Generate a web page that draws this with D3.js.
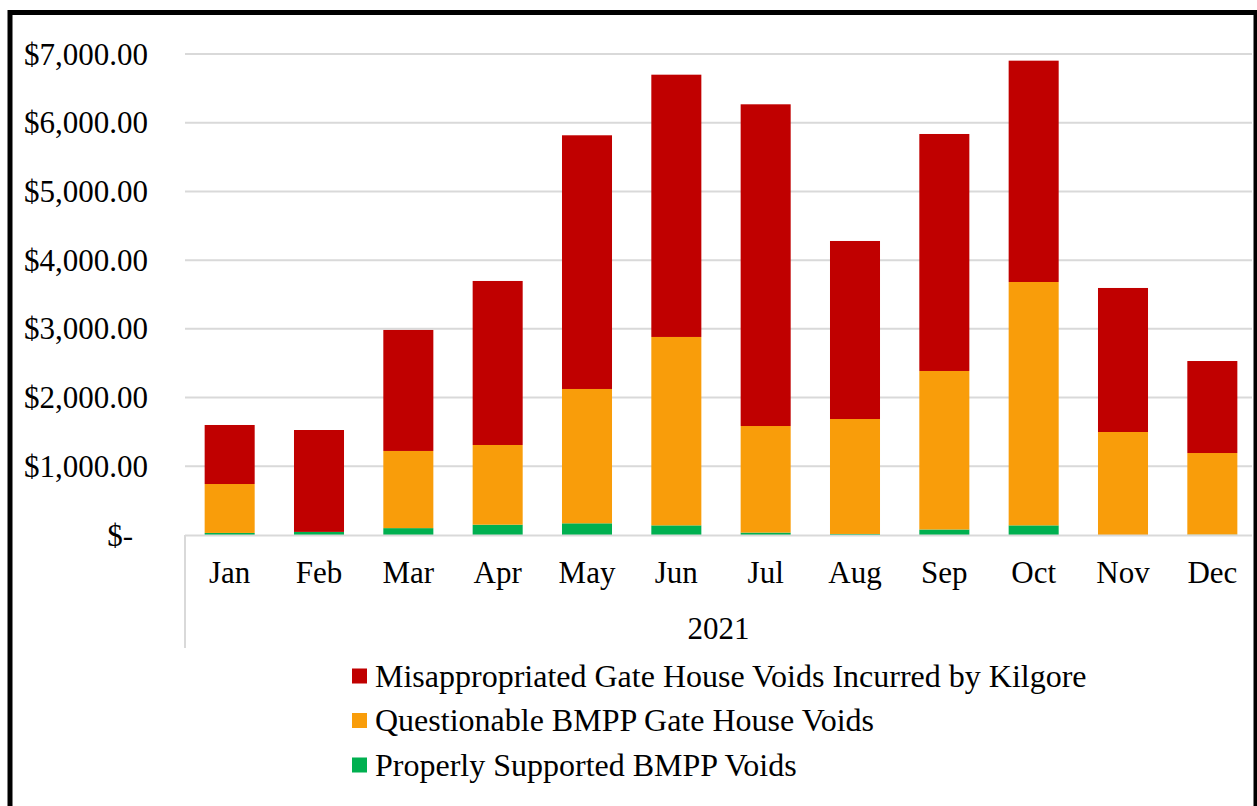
<!DOCTYPE html>
<html lang="en">
<head>
    <meta charset="UTF-8">
    <title>BMPP Gate House Voids 2021</title>
    <script src="https://d3js.org/d3.v7.min.js"></script>
</head>
<style>
    body {
        margin: 0;
        background: white;
    }
    svg text {
        font-family: "Liberation Serif", "Times New Roman", serif;
        fill: black;
    }
</style>
<body>
    <svg id="chart"></svg>

    <script>
    //Data
        const months = ['Jan', 'Feb', 'Mar', 'Apr', 'May', 'Jun', 'Jul', 'Aug', 'Sep', 'Oct', 'Nov', 'Dec'];
        const supported = [30, 45, 100, 150, 170, 140, 35, 15, 80, 140, 0, 5];
        const questionable = [712, 0, 1123, 1160, 1955, 2742, 1551, 1673, 2307, 3542, 1499, 1188];
        const misappropriated = [859, 1483, 1761, 2387, 3692, 3817, 4682, 2591, 3449, 3221, 2096, 1339];
        const yTicks = [0, 1000, 2000, 3000, 4000, 5000, 6000, 7000];
        const yearLabel = '2021';

        const seriesNames = [
            'Properly Supported BMPP Voids',
            'Questionable BMPP Gate House Voids',
            'Misappropriated Gate House Voids Incurred by Kilgore'
        ];
        const seriesColors = ['#00b050', '#f99d0a', '#c00000'];

        const width = 1257;
        const height = 806;

        const svg = d3.select('#chart')
            .attr('width', width)
            .attr('height', height);

    //Outer frame
        svg.append('rect')
            .attr('x', 10)
            .attr('y', 12.5)
            .attr('width', 1246)
            .attr('height', 820)
            .attr('fill', 'none')
            .attr('stroke', 'black')
            .attr('stroke-width', 5);

    //Scales
        const plotLeft = 185, plotRight = 1257;
        const x = d3.scaleBand()
            .domain(months)
            .range([plotLeft, plotRight])
            .paddingInner(0.44)
            .paddingOuter(0.22);

        const y = d3.scaleLinear()
            .domain([0, 7000])
            .range([535, 54]);

    //Gridlines
        svg.append('g')
            .selectAll('line')
            .data(yTicks.filter(d => d > 0))
            .join('line')
            .attr('x1', plotLeft)
            .attr('x2', 1252)
            .attr('y1', d => y(d))
            .attr('y2', d => y(d))
            .attr('stroke', '#d9d9d9')
            .attr('stroke-width', 2);

    //Y labels
        const fmt = d3.format(',.2f');
        svg.append('g')
            .selectAll('text')
            .data(yTicks)
            .join('text')
            .attr('x', d => d === 0 ? 133 : 148)
            .attr('y', d => y(d))
            .attr('dy', '0.34em')
            .attr('text-anchor', 'end')
            .attr('font-size', 31)
            .text(d => d === 0 ? '$-' : '$' + fmt(d));

    //Stacked bars
        const rows = months.map((m, i) => ({
            month: m,
            s0: supported[i],
            s1: questionable[i],
            s2: misappropriated[i]
        }));
        const stack = d3.stack().keys(['s0', 's1', 's2']);
        const layers = stack(rows);

        svg.append('g')
            .selectAll('g')
            .data(layers)
            .join('g')
            .attr('fill', (d, i) => seriesColors[i])
            .selectAll('rect')
            .data(d => d)
            .join('rect')
            .attr('x', d => x(d.data.month))
            .attr('width', x.bandwidth())
            .attr('y', d => y(d[1]))
            .attr('height', d => y(d[0]) - y(d[1]));

    //Category axis
        svg.append('line')
            .attr('x1', plotLeft)
            .attr('x2', 1252)
            .attr('y1', 535.5)
            .attr('y2', 535.5)
            .attr('stroke', '#d9d9d9')
            .attr('stroke-width', 2);

        svg.append('line')
            .attr('x1', plotLeft)
            .attr('x2', plotLeft)
            .attr('y1', 535)
            .attr('y2', 648)
            .attr('stroke', '#d9d9d9')
            .attr('stroke-width', 2);

        svg.append('g')
            .selectAll('text')
            .data(months)
            .join('text')
            .attr('x', d => x(d) + x.bandwidth() / 2)
            .attr('y', 583)
            .attr('text-anchor', 'middle')
            .attr('font-size', 31)
            .text(d => d);

        svg.append('text')
            .attr('x', (plotLeft + 1252) / 2)
            .attr('y', 639)
            .attr('text-anchor', 'middle')
            .attr('font-size', 31)
            .text(yearLabel);

    //Legend (top to bottom: red, orange, green)
        const legendOrder = [2, 1, 0];
        const legend = svg.append('g')
            .selectAll('g')
            .data(legendOrder)
            .join('g')
            .attr('transform', (d, i) => `translate(352, ${676 + i * 44.5})`);

        legend.append('rect')
            .attr('x', 0)
            .attr('y', -7.5)
            .attr('width', 15)
            .attr('height', 15)
            .attr('fill', d => seriesColors[d]);

        legend.append('text')
            .attr('x', 23)
            .attr('y', 0)
            .attr('dy', '0.34em')
            .attr('font-size', 32)
            .text(d => seriesNames[d]);
    </script>
</body>
</html>
